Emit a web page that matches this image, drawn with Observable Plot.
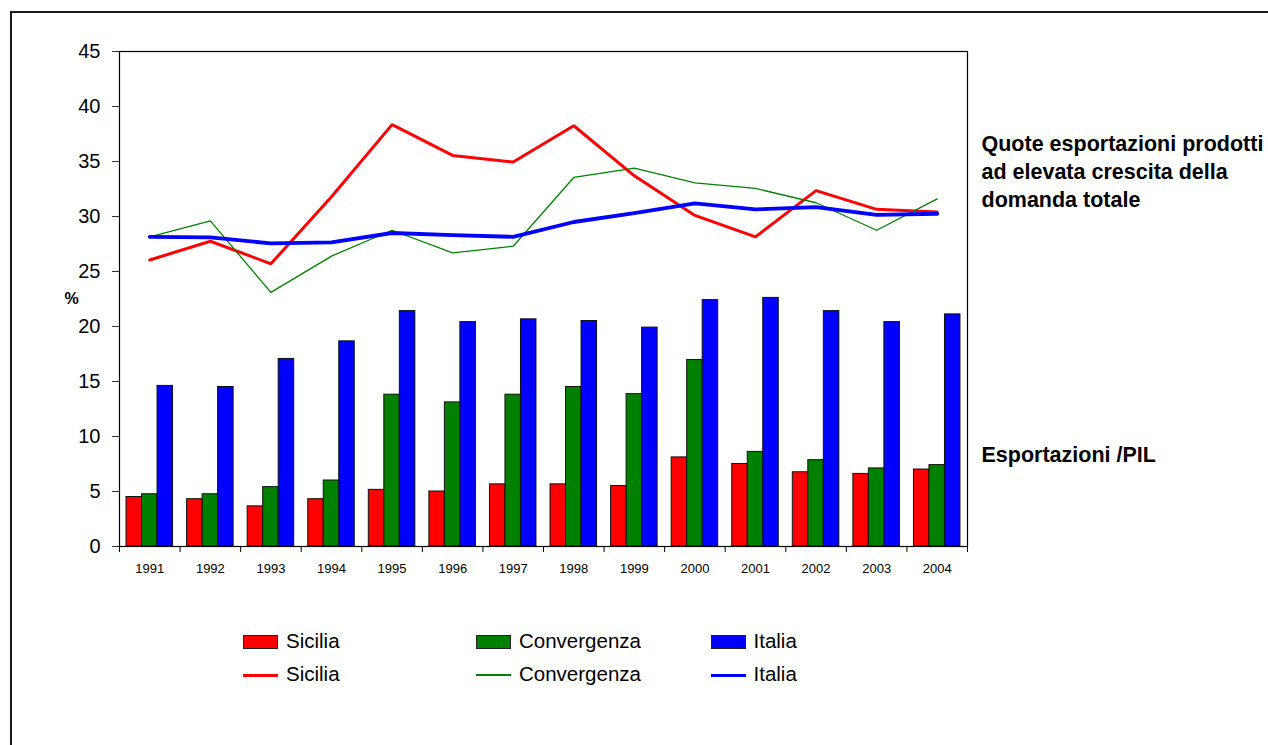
<!DOCTYPE html>
<html>
<head>
<meta charset="utf-8">
<script src="https://cdn.jsdelivr.net/npm/d3@7"></script>
<script src="https://cdn.jsdelivr.net/npm/@observablehq/plot@0.6"></script>
<style>
  html, body { margin: 0; padding: 0; background: #fff; overflow: hidden; width: 1268px; height: 745px; }
  #wrap { position: relative; width: 1268px; height: 745px; font-family: "Liberation Sans", Arial, sans-serif; }
  #outer { position: absolute; left: 10px; top: 11px; width: 1300px; height: 800px; border: 2px solid #1a1a1a; box-sizing: border-box; }
  #chart { position: absolute; left: 0; top: 0; }
  .leg { position: absolute; font-size: 20.5px; color: #000; line-height: 1; white-space: nowrap; }
  .sw { position: absolute; box-sizing: border-box; border: 1.5px solid #222; }
  .ln { position: absolute; }
</style>
</head>
<body>
<div id="wrap">
  <div id="outer"></div>
  <div id="chart"></div>
  <div id="legend"></div>
</div>
<script>
const years = [1991, 1992, 1993, 1994, 1995, 1996, 1997, 1998, 1999, 2000, 2001, 2002, 2003, 2004];
const seriesNames = ["Sicilia", "Convergenza", "Italia"];
const seriesColors = ["#FF0000", "#008000", "#0000FF"];

// Esportazioni / PIL (bars)
const barSicilia     = [4.5, 4.3, 3.65, 4.3, 5.15, 5.0, 5.65, 5.65, 5.5, 8.1, 7.5, 6.75, 6.6, 7.0];
const barConvergenza = [4.75, 4.75, 5.4, 6.0, 13.8, 13.1, 13.8, 14.5, 13.85, 16.95, 8.6, 7.85, 7.1, 7.4];
const barItalia      = [14.6, 14.5, 17.05, 18.65, 21.4, 20.4, 20.65, 20.5, 19.9, 22.4, 22.6, 21.4, 20.4, 21.1];

// Quote esportazioni prodotti ad elevata crescita della domanda totale (lines)
const lineSicilia     = [26.05, 27.75, 25.7, 31.8, 38.35, 35.55, 34.95, 38.25, 33.7, 30.1, 28.15, 32.35, 30.65, 30.4];
const lineConvergenza = [28.15, 29.6, 23.1, 26.4, 28.75, 26.7, 27.3, 33.55, 34.4, 33.05, 32.55, 31.25, 28.75, 31.6];
const lineItalia      = [28.15, 28.1, 27.55, 27.65, 28.5, 28.3, 28.15, 29.5, 30.3, 31.2, 30.65, 30.85, 30.15, 30.25];

const yTicks = [0, 5, 10, 15, 20, 25, 30, 35, 40, 45];
const labelTop = "Quote esportazioni prodotti\nad elevata crescita della\ndomanda totale";
const labelBottom = "Esportazioni /PIL";
const yLabel = "%";

const barSeries = [barSicilia, barConvergenza, barItalia];
const lineSeries = [lineSicilia, lineConvergenza, lineItalia];

const bars = [];
barSeries.forEach((arr, i) => arr.forEach((v, j) => bars.push({year: years[j], series: seriesNames[i], idx: i, value: v})));
const lineData = lineSeries.map((arr, i) => arr.map((v, j) => ({year: years[j], series: seriesNames[i], value: v})));

const boundaries = years.map(y => y - 0.5).concat([years[years.length - 1] + 0.5]);
const BW = 0.256; // bar width in year units
const font = "Liberation Sans, Arial, sans-serif";

const chart = Plot.plot({
  width: 1268,
  height: 600,
  marginLeft: 119,
  marginRight: 301,
  marginTop: 51,
  marginBottom: 54,
  style: {fontFamily: font, color: "#000", background: "transparent", overflow: "visible"},
  x: {domain: [boundaries[0], boundaries[boundaries.length - 1]]},
  y: {domain: [0, 45]},
  color: {domain: seriesNames, range: seriesColors},
  marks: [
    Plot.rect(bars, {
      x1: d => d.year - 1.5 * BW + d.idx * BW,
      x2: d => d.year - 1.5 * BW + (d.idx + 1) * BW,
      y1: () => 0,
      y2: "value",
      fill: "series",
      stroke: "#111",
      strokeWidth: 1
    }),
    Plot.line(lineData[0], {x: "year", y: "value", stroke: seriesColors[0], strokeWidth: 3, strokeLinejoin: "miter"}),
    Plot.line(lineData[1], {x: "year", y: "value", stroke: seriesColors[1], strokeWidth: 1.3}),
    Plot.line(lineData[2], {x: "year", y: "value", stroke: seriesColors[2], strokeWidth: 3.8}),
    Plot.frame({stroke: "#000", strokeWidth: 1.2}),
    Plot.axisY({ticks: yTicks, tickSize: 7, tickPadding: 12, fontSize: 20, label: null, stroke: "#333"}),
    Plot.axisX({ticks: boundaries, tickSize: 6, tickFormat: () => "", label: null, stroke: "#000"}),
    Plot.axisX({ticks: years, tickSize: 0, tickPadding: 17, fontSize: 13, tickFormat: d => `${d}`, label: null}),
    Plot.text([yLabel], {frameAnchor: "left", dx: -55, fontSize: 16, fontWeight: "bold", fill: "#000"}),
    Plot.text([labelTop], {x: () => boundaries[boundaries.length - 1], y: () => 34.2, dx: 14, textAnchor: "start", lineAnchor: "middle", lineHeight: 1.3, fontSize: 21.5, fontWeight: "bold", fill: "#000"}),
    Plot.text([labelBottom], {x: () => boundaries[boundaries.length - 1], y: () => 8.3, dx: 14, textAnchor: "start", lineAnchor: "middle", fontSize: 21.5, fontWeight: "bold", fill: "#000"})
  ]
});
document.getElementById("chart").appendChild(chart);

// Legend
const legend = document.getElementById("legend");
const colX = [243, 476, 711];
const textX = [286, 519, 753.5];
const rowY = [641.5, 675];
seriesNames.forEach((name, i) => {
  const sw = document.createElement("div");
  sw.className = "sw";
  Object.assign(sw.style, {left: colX[i] + "px", top: (rowY[0] - 7) + "px", width: "35px", height: "14px", background: seriesColors[i]});
  legend.appendChild(sw);
  const ln = document.createElement("div");
  ln.className = "ln";
  const lw = i === 1 ? 1.3 : 3;
  Object.assign(ln.style, {left: colX[i] + "px", top: (rowY[1] - lw / 2) + "px", width: "35px", height: lw + "px", background: seriesColors[i]});
  legend.appendChild(ln);
  rowY.forEach(y => {
    const t = document.createElement("div");
    t.className = "leg";
    t.textContent = name;
    Object.assign(t.style, {left: textX[i] + "px", top: (y - 11) + "px"});
    legend.appendChild(t);
  });
});
</script>
</body>
</html>
